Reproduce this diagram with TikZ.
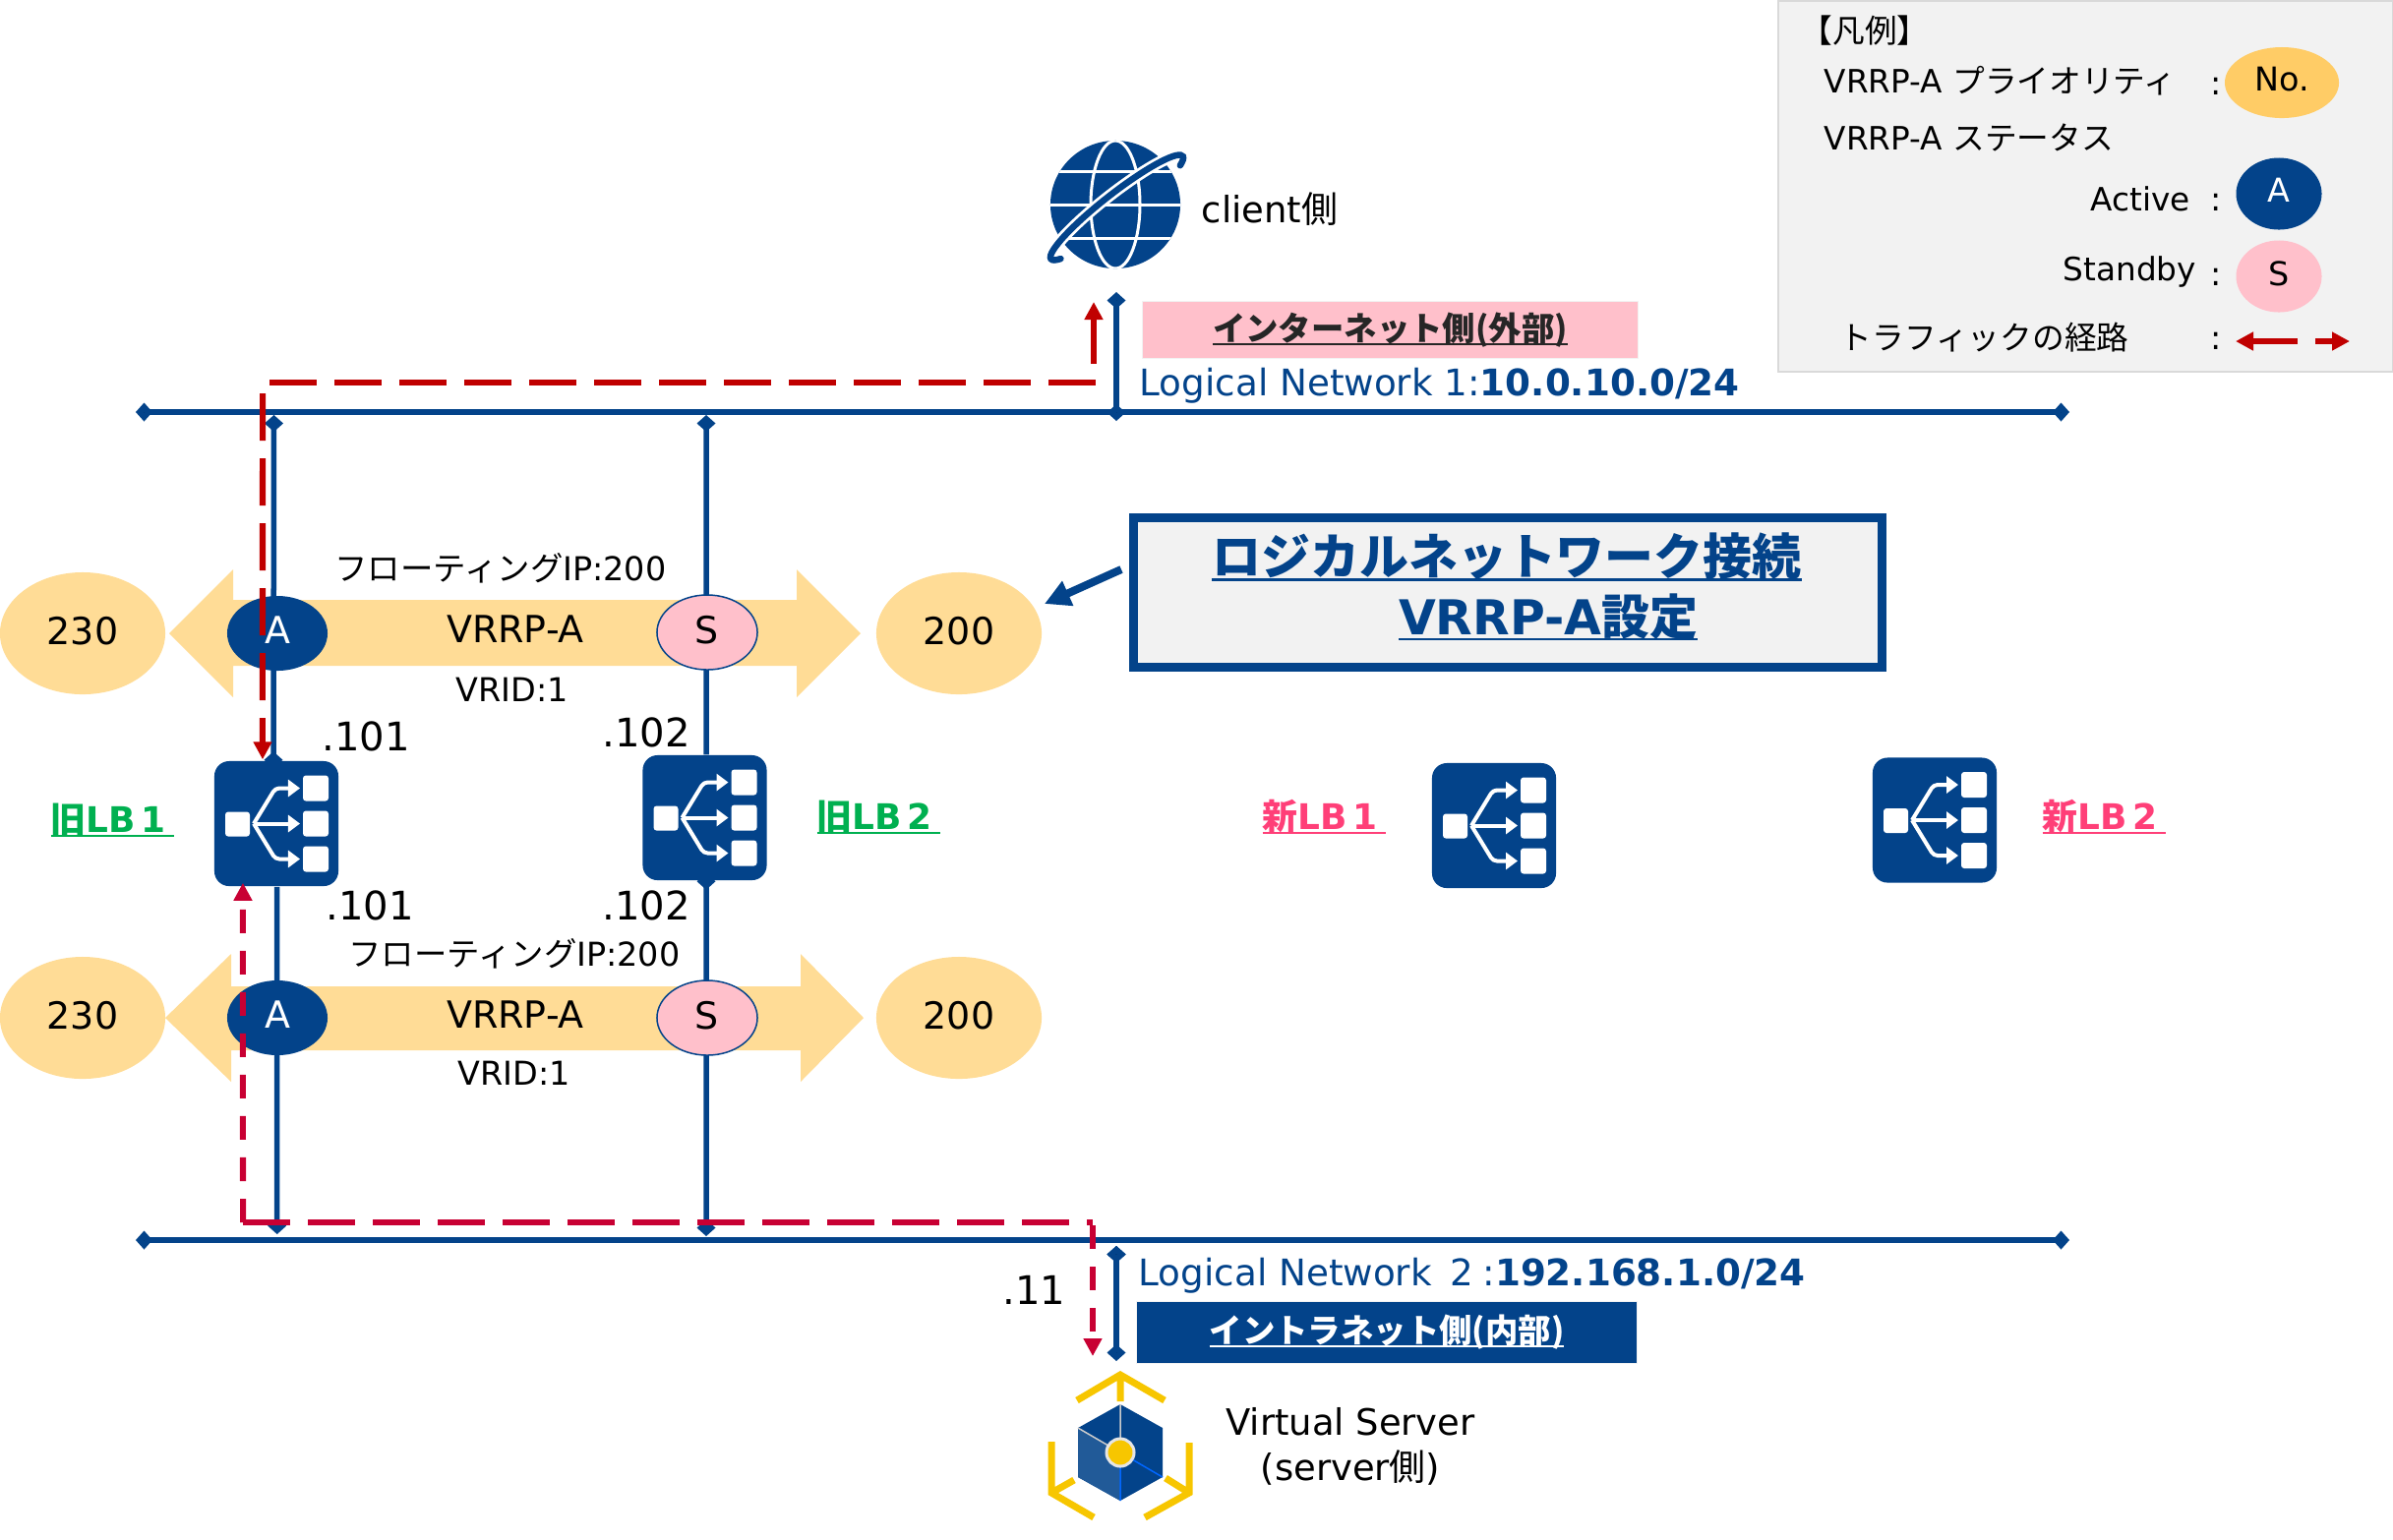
\documentclass[tikz,border=0pt]{standalone}
\usepackage{fontspec}
\setmainfont{DejaVu Sans}
\newfontfamily\jp{Noto Sans CJK JP}
\usetikzlibrary{arrows.meta,shapes.geometric}
\definecolor{netblue}{HTML}{03438A}
\definecolor{routered}{HTML}{C00000}
\definecolor{backred}{HTML}{C80033}
\definecolor{tagyellow}{HTML}{FFDC96}
\definecolor{noyellow}{HTML}{FFCC66}
\definecolor{standbypink}{HTML}{FFC0CB}
\definecolor{oldgreen}{HTML}{00B050}
\definecolor{newpink}{HTML}{FF3F78}
\definecolor{panelgray}{HTML}{F2F2F2}
\definecolor{iconyellow}{HTML}{F7C600}
\newcommand{\ulined}[3]{\vtop{\hbox{\raisebox{0pt}[\height][0pt]{#3}}\kern#1\hrule height#2}}
\tikzset{pics/lbicon/.style={code={
  \fill[white,rounded corners=.03cm] (-52,-12) rectangle (-27,13);
  \foreach \y in {-36,0,36} {
    \fill[white,rounded corners=.03cm] (27,\y-13) rectangle (53,\y+13);
    \draw[white,line width=.04cm,rounded corners=.04cm,-{Triangle[length=.12cm,width=.17cm]}] (-23,0) -- (-1,\y) -- (24,\y);
  }
}}}
\begin{document}
\begin{tikzpicture}[x=.01cm,y=-.01cm,
    net/.style={draw=netblue,line width=.06cm,dot-dot},
    dot-dot/.style={{Diamond[length=.17cm,width=.19cm]}-{Diamond[length=.17cm,width=.19cm]}},
    dot-none/.style={{Diamond[length=.17cm,width=.19cm]}-},
    none-dot/.style={-{Diamond[length=.17cm,width=.19cm]}},
    drop/.style={draw=netblue,line width=.055cm},
    route/.style={draw=routered,line width=.06cm,dash pattern=on .48cm off .18cm},
    back/.style={draw=backred,line width=.06cm,dash pattern=on .24cm off .18cm},
    tip/.style={-{Triangle[length=.18cm,width=.18cm]}},
    prio/.style={ellipse,fill=tagyellow,text depth=.06cm,minimum width=1.68cm,minimum height=1.24cm},
    active/.style={ellipse,fill=netblue,text=white,text depth=.06cm,minimum width=1.02cm,minimum height=.76cm},
    standby/.style={ellipse,draw=netblue,line width=.015cm,fill=standbypink,text depth=.06cm,minimum width=1.02cm,minimum height=.76cm},
    lbbox/.style={fill=netblue,rounded corners=.15cm,minimum width=1.26cm,minimum height=1.27cm},
    small/.style={font=\fontsize{9.5}{11}\selectfont},
    legendtext/.style={font=\fontsize{9.3}{11}\selectfont,anchor=base west},
    addr/.style={font=\fontsize{11.4}{13}\selectfont,anchor=base west},
    lbname/.style={font=\fontsize{10.2}{12}\selectfont\bfseries,anchor=base west},
    netlabel/.style={font=\fontsize{10.6}{12}\selectfont,text=netblue,anchor=base west},
    sidetag/.style={font=\fontsize{9.5}{11}\selectfont\bfseries,draw=panelgray,line width=.01cm,text depth=.06cm,minimum height=.58cm},
    sidelabel/.style={font=\fontsize{10.5}{13}\selectfont},
    headline/.style={font=\fontsize{14.2}{16}\selectfont\bfseries,text=netblue,anchor=base}]
  \tikzstyle{every node}=[font=\fontsize{10.8}{13}\selectfont,inner sep=0pt]
  \useasboundingbox (0,0) rectangle (2433,1565);

  \node[draw=black!15,line width=.02cm,fill=panelgray,minimum width=6.24cm,minimum height=3.77cm] (legend) at (2120.5,189.5) {};
  \node[legendtext] (legtitle) at (1830,43) {\jp 【凡例】};
  \node[legendtext] (legprio) at (1854,94) {VRRP-A {\jp プライオリティ}};
  \node[legendtext] (legstat) at (1854,152) {VRRP-A {\jp ステータス}};
  \node[legendtext] (legact) at (2125,214) {Active};
  \node[legendtext] (legstb) at (2097,285) {Standby};
  \node[legendtext] (legroute) at (1870,355) {\jp トラフィックの経路};
  \foreach \n/\y in {a/96,b/214,c/290,d/355}
    \node[small,anchor=base] (colon\n) at (2253,\y) {:};
  \node[small,ellipse,fill=noyellow,text depth=.08cm,minimum width=1.16cm,minimum height=.72cm] (legno) at (2320,84) {No.};
  \node[small,active,text depth=.08cm,minimum width=.87cm,minimum height=.73cm] (lega) at (2317,197) {A};
  \node[small,ellipse,fill=standbypink,text depth=.06cm,minimum width=.87cm,minimum height=.73cm] (legs) at (2317,281) {S};
  \coordinate (legl1) at (2336,347);
  \coordinate (legl2) at (2273,347);
  \coordinate (legr1) at (2354,347);
  \coordinate (legr2) at (2389,347);
  \draw[draw=routered,line width=.06cm,tip] (legl1) -- (legl2);
  \draw[draw=routered,line width=.06cm,tip] (legr1) -- (legr2);

  \fill[tagyellow] (172,644) -- (237,579) -- (237,610) -- (810,610) -- (810,579) -- (875,644) -- (810,709) -- (810,677) -- (237,677) -- (237,709) -- cycle;
  \fill[tagyellow] (168,1035) -- (235,970) -- (235,1003) -- (814,1003) -- (814,970) -- (878,1035) -- (814,1100) -- (814,1068) -- (235,1068) -- (235,1100) -- cycle;
  \node[prio] (p230a) at (84,644) {230};
  \node[prio] (p200a) at (975,644) {200};
  \node[prio] (p230b) at (84,1035) {230};
  \node[prio] (p200b) at (975,1035) {200};

  \foreach \n/\x/\y in {lb1/281/837.5,lb2/716.5/831.5,lb3/1519/839.5,lb4/1967/834}
    \node[lbbox] (\n) at (\x,\y) {} pic at (\x,\y) {lbicon};

  \coordinate (bus1l) at (138,419);
  \coordinate (bus1r) at (2104,419);
  \coordinate (bus2l) at (138,1261);
  \coordinate (bus2r) at (2104,1261);
  \coordinate (top1) at (278.5,422);
  \coordinate (top2) at (718,422);
  \coordinate (low1) at (281.7,1255);
  \coordinate (low2) at (718,1257);
  \coordinate (cl1) at (1135,297);
  \coordinate (cl2) at (1135,428);
  \coordinate (sv1) at (1135,1267);
  \coordinate (sv2) at (1135,1384);
  \path[net] (bus1l) edge (bus1r)
             (bus2l) edge (bus2r)
             (cl1) edge (cl2)
             (sv1) edge (sv2);
  \draw[drop,dot-dot,shorten >=-.08cm] (top1) -- ([xshift=-.03cm]lb1.north);
  \draw[drop,dot-none] (top2) -- ([xshift=.015cm]lb2.north);
  \draw[drop,none-dot] ([xshift=.007cm]lb1.south) -- (low1);
  \draw[drop,dot-dot,shorten <=-.08cm] ([xshift=.015cm]lb2.south) -- (low2);

  \node[active] (acta) at (282,644) {A};
  \node[standby] (stba) at (719,643) {S};
  \node[active] (actb) at (282,1035) {A};
  \node[standby] (stbb) at (719,1035) {S};
  \node (vrrpa) at (524,640) {VRRP-A};
  \node (vrrpb) at (524,1032) {VRRP-A};
  \node[small,anchor=base] (fipa) at (509,590) {{\jp フローティング}IP:200};
  \node[small,anchor=base] (fipb) at (523,982) {{\jp フローティング}IP:200};
  \node[small,anchor=base] (vrida) at (521,713) {VRID:1};
  \node[small,anchor=base] (vridb) at (523,1103) {VRID:1};
  \node[addr] (ipa1) at (327,763) {.101};
  \node[addr] (ipa2) at (612,759) {.102};
  \node[addr] (ipb1) at (331,935) {.101};
  \node[addr] (ipb2) at (612,935) {.102};
  \node[addr] (ipsv) at (1019,1326) {.11};
  \node[lbname,text=oldgreen] (old1) at (51,846) {\ulined{.03cm}{.018cm}{{\jp 旧}LB\,1\hspace{.08cm}}};
  \node[lbname,text=oldgreen] (old2) at (830,843) {\ulined{.03cm}{.018cm}{{\jp 旧}LB\,2\hspace{.08cm}}};
  \node[lbname,text=newpink] (new1) at (1283,843) {\ulined{.03cm}{.018cm}{{\jp 新}LB\,1\hspace{.08cm}}};
  \node[lbname,text=newpink] (new2) at (2076,843) {\ulined{.03cm}{.018cm}{{\jp 新}LB\,2\hspace{.08cm}}};

  \node[sidetag,fill=standbypink,text=black!85,minimum width=5.03cm] (inet) at (1413.5,335) {\ulined{.025cm}{.018cm}{\jp インターネット側(外部)}};
  \node[sidetag,fill=netblue,text=white,minimum width=5.08cm,minimum height=.63cm] (intra) at (1410,1354.5) {\ulined{.025cm}{.018cm}{\jp イントラネット側(内部)}};
  \node[netlabel] (net1) at (1158,402) {Logical Network 1:\textbf{10.0.10.0/24}};
  \node[netlabel] (net2) at (1157,1307) {Logical Network\hspace{.5em}2\hspace{.25em}:\textbf{192.168.1.0/24}};

  \node[draw=netblue,line width=.09cm,fill=panelgray,minimum width=7.61cm,minimum height=1.52cm] (cfg) at (1533,602.5) {};
  \node[headline] (cfgl1) at (1532,584) {\ulined{.04cm}{.025cm}{\jp ロジカルネットワーク接続}};
  \node[headline,font=\fontsize{13.9}{16}\selectfont\bfseries] (cfgl2) at (1574,645) {\ulined{.035cm}{.025cm}{VRRP-A{\jp 設定}}};
  \coordinate (cfgtail) at (1140,579);
  \coordinate (cfghead) at (1062,614);
  \draw[draw=netblue,line width=.08cm,-{Triangle[length=.26cm,width=.26cm]}] (cfgtail) -- (cfghead);

  \node[ellipse,fill=netblue,minimum width=1.32cm,minimum height=1.30cm] (client) at (1134,208) {};
  \begin{scope}
    \clip (1134,208) ellipse [x radius=66,y radius=65];
    \draw[white,line width=.03cm] (1134,208) ellipse [x radius=25,y radius=65];
    \foreach \y in {174,208,242}
      \draw[white,line width=.03cm] (1060,\y) -- (1210,\y);
  \end{scope}
  \begin{scope}[shift={(1135.5,211)},y=.01cm,rotate=38]
    \draw[white,line width=.12cm] (-25:85 and 14) arc[start angle=-25,end angle=205,x radius=85,y radius=14];
    \draw[netblue,line width=.065cm,line cap=round] (-25:85 and 14) arc[start angle=-25,end angle=205,x radius=85,y radius=14];
  \end{scope}
  \node[sidelabel,anchor=base west] (clientlbl) at (1221,226) {client{\jp 側}};

  \fill[netblue] (1139,1428) -- (1182,1452) -- (1182,1502) -- (1139,1526) -- (1096,1502) -- (1096,1452) -- cycle;
  \fill[netblue!88!white] (1139,1477) -- (1139,1526) -- (1096,1502) -- (1096,1452) -- cycle;
  \draw[black!20,line width=.015cm] (1139,1477) -- (1139,1428) (1139,1477) -- (1096,1452);
  \draw[blue!60!cyan,line width=.015cm] (1139,1477) -- (1139,1526) (1139,1477) -- (1182,1502);
  \node[circle,draw=black!10,line width=.03cm,fill=iconyellow,minimum size=.28cm] (server) at (1139,1477) {};
  \draw[iconyellow,line width=.07cm] (1095,1424) -- (1139,1398) -- (1184,1424) (1139,1398) -- (1139,1425)
    (1069,1466) -- (1069,1518) -- (1112,1543) (1069,1518) -- (1092,1505)
    (1209,1467) -- (1209,1518) -- (1164,1543) (1209,1518) -- (1185,1503);
  \node[sidelabel,anchor=base] (svlbl1) at (1373,1459) {Virtual Server};
  \node[sidelabel,anchor=base] (svlbl2) at (1373,1505) {(server{\jp 側})};

  \coordinate (rta) at (274,389);
  \coordinate (rtb) at (1116,389);
  \coordinate (rtc) at (267,400);
  \coordinate (rtd) at (1112,370);
  \coordinate (rte) at (1112,307);
  \draw[route] (rta) -- (rtb);
  \draw[route,tip] (rtc) -- ([xshift=-.14cm,yshift=.01cm]lb1.north);
  \draw[draw=routered,line width=.06cm,tip] (rtd) -- (rte);
  \coordinate (bka) at (247,1243);
  \coordinate (bkb) at (1111,1243);
  \coordinate (bkc) at (1111,1246);
  \coordinate (bkd) at (1111,1379);
  \draw[back,tip] (bkc) -- (bkd);
  \draw[back,tip] (bka) -- ([xshift=-.34cm,yshift=.04cm]lb1.south);
  \draw[draw=backred,line width=.06cm,dash pattern=on .48cm off .18cm] (bka) -- (bkb);
\end{tikzpicture}
\end{document}
